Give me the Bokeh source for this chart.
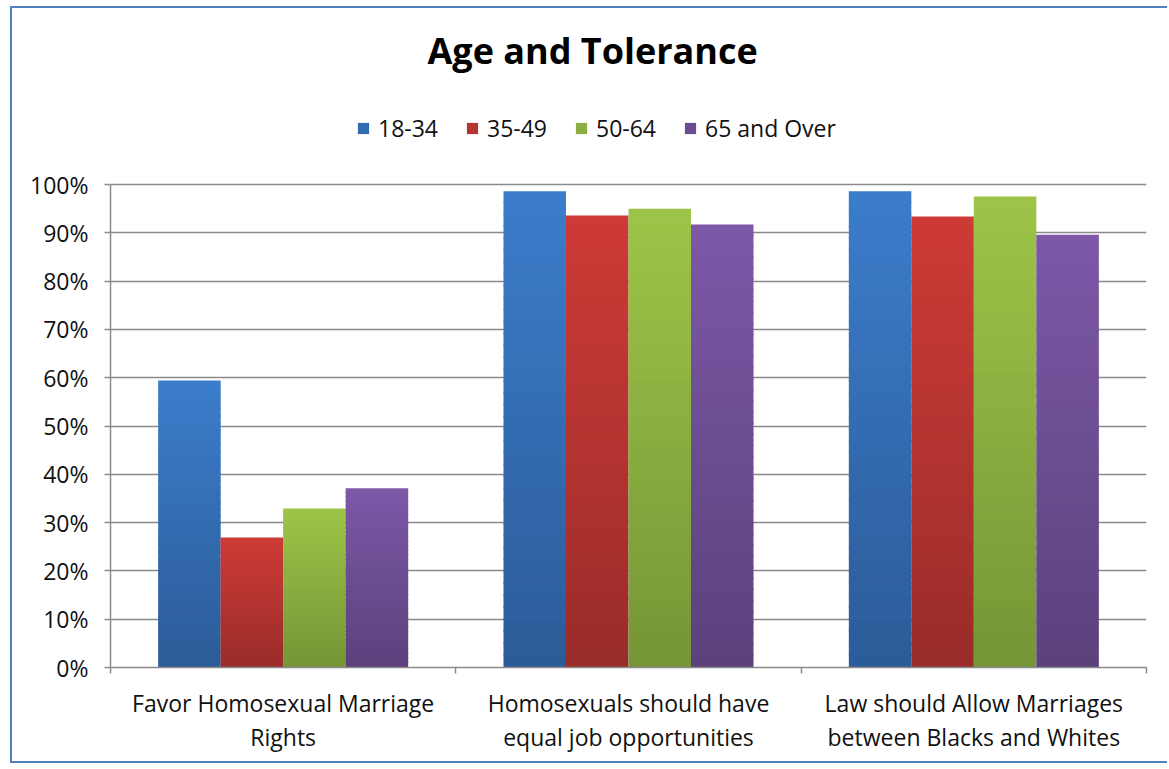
from bokeh.plotting import figure
from bokeh.models import (Range1d, FixedTicker, NumeralTickFormatter, Legend,
                          LegendItem, Label, ColumnDataSource)
from bokeh.embed import file_html
from bokeh.resources import INLINE

# ---------------- data ----------------
title_text = "Age and Tolerance"
categories = ["Favor Homosexual Marriage\nRights",
              "Homosexuals should have\nequal job opportunities",
              "Law should Allow Marriages\nbetween Blacks and Whites"]
series_names = ["18-34", "35-49", "50-64", "65 and Over"]
v_18_34 = [0.594, 0.986, 0.986]
v_35_49 = [0.269, 0.936, 0.934]
v_50_64 = [0.329, 0.950, 0.975]
v_65_over = [0.371, 0.917, 0.896]
y_ticks = [0.0, 0.1, 0.2, 0.3, 0.4, 0.5, 0.6, 0.7, 0.8, 0.9, 1.0]

series_values = [v_18_34, v_35_49, v_50_64, v_65_over]
# (top colour, bottom colour) per series
series_colors = [((59, 125, 203), (44, 91, 152)),
                 ((206, 59, 55), (153, 44, 41)),
                 ((158, 197, 72), (117, 149, 55)),
                 ((124, 88, 167), (92, 65, 124))]

FONT = "Open Sans"
GRAY = "#8a8a8a"
TXT = "23px"

W, H = 1157, 757
p = figure(width=W, height=H, output_backend="svg", toolbar_location=None,
           x_range=Range1d(0, 3), y_range=Range1d(0, 659 / 483),
           min_border_left=98, min_border_right=23, min_border_top=0,
           min_border_bottom=98)
p.outline_line_color = None
p.background_fill_color = "white"
p.border_fill_color = "white"
p.styles = {"margin-left": "10px", "margin-top": "6px",
            "border-left": "2px solid #4f81bd", "border-top": "2px solid #4f81bd",
            "border-bottom": "2px solid #4f81bd"}

# ---------------- bars (vertical gradient via stacked slices) ----------------
N = 40
bar_w = 0.181
renderers = []
for j, (vals, (ctop, cbot)) in enumerate(zip(series_values, series_colors)):
    xs, bots, tops, cols = [], [], [], []
    for i, v in enumerate(vals):
        for k in range(N):
            t = (k + 0.5) / N
            r = round(cbot[0] + (ctop[0] - cbot[0]) * t)
            g = round(cbot[1] + (ctop[1] - cbot[1]) * t)
            b = round(cbot[2] + (ctop[2] - cbot[2]) * t)
            xs.append(i + 0.5 + (j - 1.5) * bar_w)
            bots.append(v * k / N)
            tops.append(min(v, v * (k + 1) / N + 0.003))
            cols.append("#%02x%02x%02x" % (r, g, b))
    src = ColumnDataSource(dict(x=xs, bottom=bots, top=tops, color=cols))
    rr = p.vbar(x="x", bottom="bottom", top="top", width=bar_w, source=src,
                fill_color="color", line_color=None)
    renderers.append(rr)

# ---------------- axes ----------------
p.yaxis.ticker = FixedTicker(ticks=y_ticks)
p.yaxis.formatter = NumeralTickFormatter(format="0%")
p.yaxis.bounds = (0, 1)
p.yaxis.major_tick_out = 6
p.yaxis.major_tick_in = 0
p.yaxis.minor_tick_line_color = None
p.yaxis.axis_line_color = GRAY
p.yaxis.axis_line_width = 1.5
p.yaxis.major_tick_line_color = GRAY
p.yaxis.major_tick_line_width = 1.5
p.yaxis.major_label_text_font = FONT
p.yaxis.major_label_text_font_size = TXT
p.yaxis.major_label_text_color = "#111111"
p.yaxis.major_label_standoff = 16

p.xaxis.ticker = FixedTicker(ticks=[0.5, 1.5, 2.5], minor_ticks=[0, 1, 2, 3])
p.xaxis.major_label_overrides = {0.5: categories[0], 1.5: categories[1], 2.5: categories[2]}
p.xaxis.major_tick_line_color = None
p.xaxis.major_tick_out = 0
p.xaxis.major_tick_in = 0
p.xaxis.minor_tick_out = 6
p.xaxis.minor_tick_in = 0
p.xaxis.minor_tick_line_color = GRAY
p.xaxis.minor_tick_line_width = 1.5
p.xaxis.axis_line_color = GRAY
p.xaxis.axis_line_width = 1.5
p.xaxis.major_label_text_font = FONT
p.xaxis.major_label_text_font_size = TXT
p.xaxis.major_label_text_color = "#111111"
p.xaxis.major_label_text_line_height = 1.08
p.xaxis.major_label_standoff = 13

p.xgrid.grid_line_color = None
p.ygrid.ticker = FixedTicker(ticks=y_ticks)
p.ygrid.grid_line_color = GRAY
p.ygrid.grid_line_width = 1.5

# ---------------- title ----------------
p.add_layout(Label(x=1.396, y=1.277, text=title_text, text_align="center",
                   text_baseline="alphabetic", text_font=FONT,
                   text_font_style="bold", text_font_size="36px",
                   text_color="#000000"))

# ---------------- legend ----------------
items = [LegendItem(label=name, renderers=[rr], index=N // 2)
         for name, rr in zip(series_names, renderers)]
legend = Legend(items=items, orientation="horizontal", location=(246, 523),
                glyph_width=14, glyph_height=14, label_standoff=8, spacing=0,
                label_width=87, padding=0, margin=0, border_line_color=None,
                background_fill_alpha=0, label_text_font=FONT,
                label_text_font_size=TXT, label_text_color="#111111")
p.add_layout(legend)

open("out.html", "w").write(file_html(p, INLINE))
